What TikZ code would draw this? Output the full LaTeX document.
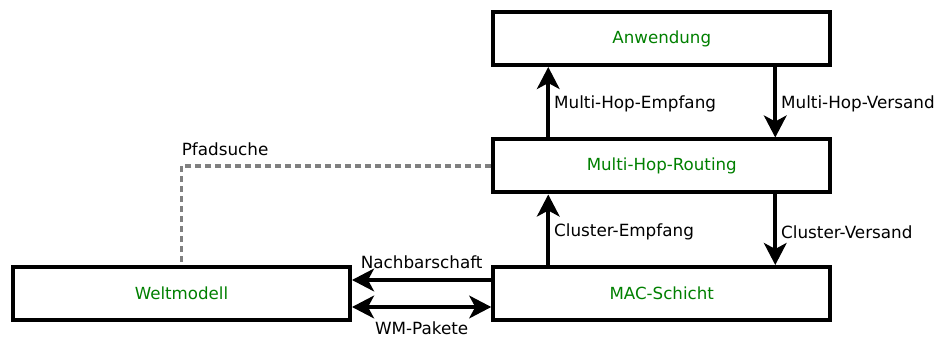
\documentclass[tikz,border=0pt]{standalone}
\usepackage{fontspec}
\setmainfont{DejaVu Sans}
\usetikzlibrary{arrows.meta,calc}
\definecolor{labelgreen}{RGB}{0,128,0}
\tikzset{
  x=0.75pt, y=-0.75pt,
  >={Stealth[length=16.5pt,width=17pt,inset=4.5pt]},
  layer/.style={draw=black, line width=3pt, rectangle, minimum width=252.75pt,
    minimum height=39.75pt, inner sep=0pt, text=labelgreen,
    font=\fontsize{12.5}{15}\selectfont},
  flow/.style={line width=2.8pt, ->},
  bothflow/.style={line width=2.8pt, <->},
  query/.style={draw=gray, line width=2.4pt, dash pattern=on 4.5pt off 3pt},
  tag/.style={font=\fontsize{12.6}{15}\selectfont, inner sep=3pt}
}
\begin{document}
\begin{tikzpicture}
\useasboundingbox[fill=white] (0,0) rectangle (938,338);

\node[layer] (anw)  at (661.75,38.5)  {Anwendung};
\node[layer] (mhr)  at (661.75,166)   {Multi-Hop-Routing};
\node[layer] (mac)  at (661.75,293.5) {MAC-Schicht};
\node[layer] (welt) at (181.5,293.5)  {Weltmodell};

% vertical data flow between the layers
\draw[flow] ($(mhr.north west)+(57,0)$) -- ($(anw.south west)+(57,0)$)
  node[midway, right, tag, yshift=-1.5pt] {Multi-Hop-Empfang};
\draw[flow] ($(anw.south west)+(284,0)$) -- ($(mhr.north west)+(284,0)$)
  node[midway, right, tag, yshift=-1.5pt] {Multi-Hop-Versand};
\draw[flow] ($(mac.north west)+(57,0)$) -- ($(mhr.south west)+(57,0)$)
  node[midway, right, tag, yshift=-1.5pt] {Cluster-Empfang};
\draw[flow] ($(mhr.south west)+(284,0)$) -- ($(mac.north west)+(284,0)$)
  node[midway, right, tag, yshift=-1.5pt] {Cluster-Versand};

% exchange between MAC layer and world model
\draw[flow] ($(mac.west)+(0,-13.5)$) -- ($(welt.east)+(0,-13.5)$)
  node[midway, above, tag, inner sep=0pt, yshift=7pt] {Nachbarschaft};
\draw[bothflow] ($(welt.east)+(0,13.5)$) -- ($(mac.west)+(0,13.5)$)
  node[midway, below, tag, inner sep=0pt, yshift=-9.5pt] {WM-Pakete};

% path search query
\coordinate (corner) at (welt.north |- mhr.west);
\draw[query] (mhr.west) -- (corner) -- (welt.north);
\node[tag, anchor=south west, inner sep=0pt] (pfad) at ($(corner)+(0,-10)$) {Pfadsuche};
\end{tikzpicture}
\end{document}
